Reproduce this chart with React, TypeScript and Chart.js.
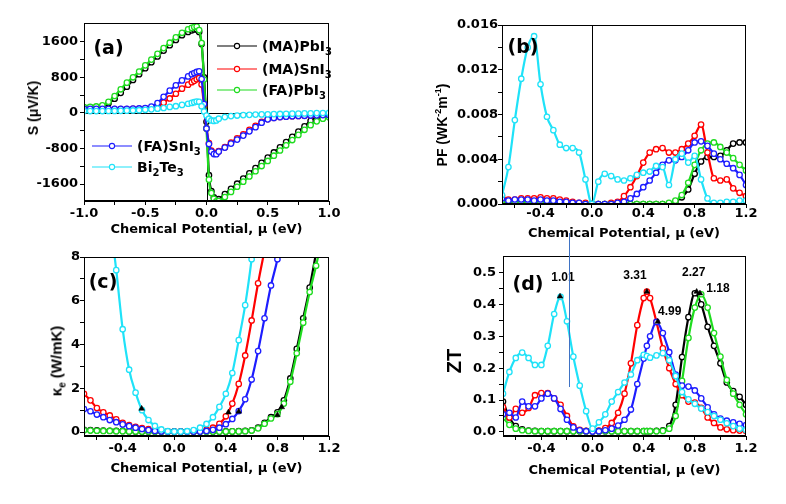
import React, { useEffect, useRef } from 'react';
import { Chart, registerables } from 'chart.js';

Chart.register(...registerables);
Chart.defaults.color = '#000';
Chart.defaults.font.family = "'DejaVu Sans', sans-serif";

// ---------------- Panel (a): Seebeck coefficient ----------------
const MU_A = [
  -1.0, -0.95, -0.9, -0.85, -0.8, -0.75, -0.7, -0.65, -0.6, -0.55,
  -0.5, -0.45, -0.4, -0.35, -0.3, -0.25, -0.2, -0.15, -0.12, -0.1,
  -0.08, -0.06, -0.04, -0.02, 0, 0.02, 0.04, 0.06, 0.08, 0.1,
  0.15, 0.2, 0.25, 0.3, 0.35, 0.4, 0.45, 0.5, 0.55, 0.6,
  0.65, 0.7, 0.75, 0.8, 0.85, 0.9, 0.95, 1.0,
];
const S_MAPBI3 = [
  120, 122, 128, 150, 215, 320, 450, 590, 740, 870,
  1005, 1140, 1270, 1400, 1520, 1640, 1745, 1820, 1855, 1875,
  1880, 1820, 1550, 800, -200, -1400, -1760, -1900, -1960, -1940,
  -1825, -1708, -1591, -1474, -1357, -1240, -1123, -1006, -889, -772,
  -655, -538, -421, -304, -180, -100, -70, -55,
];
const S_MASNI3 = [
  85, 85, 85, 85, 85, 85, 85, 85, 88, 92,
  100, 110, 140, 230, 325, 430, 545, 635, 690, 720,
  755, 785, 640, 150, -350, -680, -850, -900, -910, -860,
  -770, -670, -570, -480, -380, -290, -200, -140, -110, -92,
  -82, -73, -68, -62, -57, -52, -48, -43,
];
const S_FAPBI3 = [
  130, 135, 145, 170, 250, 380, 530, 680, 800, 930,
  1068, 1197, 1327, 1456, 1577, 1700, 1800, 1880, 1910, 1930,
  1940, 1860, 1570, 750, -350, -1500, -1800, -1930, -1990, -1980,
  -1890, -1775, -1660, -1545, -1430, -1312, -1195, -1080, -962, -845,
  -728, -610, -495, -380, -275, -190, -130, -100,
];
const S_FASNI3 = [
  90, 90, 90, 90, 90, 90, 90, 90, 95, 100,
  110, 140, 220, 360, 500, 620, 730, 820, 870, 895,
  920, 935, 760, 200, -350, -700, -870, -925, -930, -870,
  -780, -690, -600, -510, -415, -320, -220, -145, -115, -95,
  -85, -75, -70, -65, -60, -55, -50, -45,
];
const S_BI2TE3 = [
  40, 40, 40, 40, 42, 44, 46, 50, 55, 60,
  70, 80, 95, 110, 135, 150, 180, 205, 225, 240,
  255, 250, 150, 30, -60, -130, -170, -180, -170, -130,
  -95, -72, -60, -50, -44, -38, -34, -30, -27, -24,
  -20, -17, -14, -11, -8, -5, -2, 0,
];

// ---------------- Panels (b), (c): shared chemical potential grid ----------------
const MU = [
  -0.7, -0.65, -0.6, -0.55, -0.5, -0.45, -0.4, -0.35, -0.3, -0.25,
  -0.2, -0.15, -0.1, -0.05, 0, 0.05, 0.1, 0.15, 0.2, 0.25,
  0.3, 0.35, 0.4, 0.45, 0.5, 0.55, 0.6, 0.65, 0.7, 0.75,
  0.8, 0.85, 0.9, 0.95, 1.0, 1.05, 1.1, 1.15, 1.2,
];

// (b) power factor
const PF_MAPBI3 = [
  0.0001, 0.0001, 0.0001, 0.0001, 0.0001, 0.0001, 0.0001, 0, 0, 0,
  0, 0, 0, 0, 0, 0, 0, 0, 0, 0,
  0, 0, 0, 0, 0, 0, 0, 0.0002, 0.0006, 0.0013,
  0.0027, 0.0038, 0.0042, 0.0042, 0.0043, 0.0048, 0.0054, 0.0055, 0.0055,
];
const PF_MASNI3 = [
  0.0007, 0.0004, 0.0004, 0.0005, 0.0005, 0.0005, 0.0006, 0.0005, 0.0005, 0.0004,
  0.0003, 0.0002, 0.0001, 0.0001, 0, 0, 0, 0.0001, 0.0002, 0.0007,
  0.0015, 0.0025, 0.0037, 0.0046, 0.0049, 0.0050, 0.0046, 0.0046, 0.0049, 0.0054,
  0.0061, 0.0071, 0.0046, 0.0023, 0.0021, 0.0022, 0.0014, 0.0010, 0.0007,
];
const PF_FAPBI3 = [
  0.0003, 0.0002, 0.0002, 0.0002, 0.0002, 0.0002, 0.0002, 0.0002, 0.0001, 0.0001,
  0.0001, 0, 0, 0, 0, 0, 0, 0, 0, 0,
  0, 0, 0, 0, 0, 0, 0.0001, 0.0003, 0.0008, 0.0019,
  0.0035, 0.0048, 0.0054, 0.0055, 0.0051, 0.0046, 0.0041, 0.0035, 0.0030,
];
const PF_FASNI3 = [
  0.0005, 0.0003, 0.0004, 0.0004, 0.0004, 0.0003, 0.0004, 0.0003, 0.0003, 0.0002,
  0.0002, 0.0001, 0.0001, 0, 0, 0, 0, 0, 0.0001, 0.0002,
  0.0005, 0.0009, 0.0015, 0.0021, 0.0028, 0.0035, 0.0039, 0.0039, 0.0042, 0.0048,
  0.0055, 0.0056, 0.0052, 0.0045, 0.0040, 0.0036, 0.0032, 0.0026, 0.0017,
];
const PF_BI2TE3 = [
  0.0008, 0.0033, 0.0075, 0.0112, 0.0140, 0.0150, 0.0107, 0.0078, 0.0066, 0.0053,
  0.0050, 0.0050, 0.0046, 0.0022, 0.0000, 0.0020, 0.0027, 0.0025, 0.0022, 0.0021,
  0.0023, 0.0026, 0.0028, 0.0029, 0.0034, 0.0033, 0.0017, 0.0040, 0.0045, 0.0037,
  0.0043, 0.0022, 0.0005, 0.0001, 0.0001, 0.0002, 0.0002, 0.0003, 0.0003,
];

// (c) electronic thermal conductivity
const KE_MAPBI3 = [
  0.10, 0.09, 0.08, 0.07, 0.06, 0.05, 0.05, 0.04, 0.03, 0.03,
  0.02, 0.02, 0.02, 0.02, 0.02, 0.02, 0.02, 0.02, 0.02, 0.02,
  0.02, 0.02, 0.03, 0.03, 0.04, 0.05, 0.08, 0.2, 0.42, 0.68,
  0.9, 1.45, 2.45, 3.8, 5.2, 6.6, 8.2, 9.8, null,
];
const KE_MASNI3 = [
  1.75, 1.45, 1.1, 0.9, 0.76, 0.58, 0.42, 0.32, 0.24, 0.18,
  0.13, 0.08, 0.05, 0.03, 0.02, 0.02, 0.02, 0.03, 0.05, 0.1,
  0.2, 0.38, 0.72, 1.3, 2.2, 3.5, 5.1, 6.8, 8.3, null,
  null, null, null, null, null, null, null, null, null,
];
const KE_FAPBI3 = [
  0.08, 0.07, 0.06, 0.05, 0.05, 0.04, 0.04, 0.03, 0.03, 0.02,
  0.02, 0.02, 0.02, 0.02, 0.02, 0.02, 0.02, 0.02, 0.02, 0.02,
  0.02, 0.02, 0.02, 0.03, 0.03, 0.04, 0.07, 0.17, 0.38, 0.62,
  0.82, 1.3, 2.3, 3.6, 5.0, 6.4, 7.6, 9.0, null,
];
const KE_FASNI3 = [
  1.05, 0.95, 0.8, 0.68, 0.55, 0.45, 0.35, 0.27, 0.2, 0.14,
  0.09, 0.05, 0.03, 0.02, 0.02, 0.02, 0.02, 0.02, 0.02, 0.05,
  0.1, 0.2, 0.36, 0.6, 0.96, 1.5, 2.4, 3.7, 5.2, 6.7,
  7.9, 9.6, null, null, null, null, null, null, null,
];
const KE_BI2TE3 = [
  null, null, null, 11.5, 9.7, 7.4, 4.7, 2.85, 1.8, 1.0,
  0.55, 0.28, 0.12, 0.04, 0.02, 0.02, 0.04, 0.09, 0.2, 0.37,
  0.68, 1.15, 1.75, 2.7, 4.2, 5.8, 7.9, 10.5, null, null,
  null, null, null, null, null, null, null, null, null,
];
const KE_PEAK_MU = [-0.253, 0.42, 0.5, 0.8, 0.834];
const KE_PEAK_VAL = [1.07, 0.9, 0.94, 0.78, 1.14];

// ---------------- Panel (d): ZT ----------------
const MU_D = [
  -0.7, -0.65, -0.6, -0.55, -0.5, -0.45, -0.4, -0.35, -0.3, -0.25,
  -0.2, -0.15, -0.1, -0.05, 0, 0.05, 0.1, 0.15, 0.2, 0.25,
  0.3, 0.35, 0.4, 0.425, 0.45, 0.5, 0.55, 0.6, 0.65, 0.7,
  0.75, 0.8, 0.85, 0.9, 0.95, 1.0, 1.05, 1.1, 1.15, 1.2,
];
const ZT_MAPBI3 = [
  0.095, 0.045, 0.018, 0.008, 0.004, 0.003, 0.002, 0.002, 0.002, 0.002,
  0.002, 0.002, 0.002, 0.002, 0.002, 0.002, 0.002, 0.002, 0.002, 0.002,
  0.002, 0.002, 0.002, 0.002, 0.002, 0.003, 0.005, 0.018, 0.085, 0.235,
  0.36, 0.435, 0.4, 0.33, 0.27, 0.215, 0.155, 0.128, 0.11, 0.085,
];
const ZT_MASNI3 = [
  0.078, 0.045, 0.072, 0.06, 0.075, 0.115, 0.122, 0.122, 0.105, 0.085,
  0.05, 0.017, 0.006, 0.003, 0.002, 0.004, 0.012, 0.028, 0.06, 0.12,
  0.215, 0.335, 0.42, 0.44, 0.42, 0.345, 0.262, 0.2, 0.15, 0.115,
  0.095, 0.092, 0.075, 0.045, 0.028, 0.014, 0.008, 0.005, 0.004, 0.003,
];
const ZT_FAPBI3 = [
  0.045, 0.022, 0.01, 0.005, 0.003, 0.002, 0.002, 0.002, 0.002, 0.002,
  0.002, 0.002, 0.002, 0.002, 0.002, 0.002, 0.002, 0.002, 0.002, 0.002,
  0.002, 0.002, 0.002, 0.002, 0.002, 0.002, 0.003, 0.01, 0.05, 0.16,
  0.295, 0.39, 0.432, 0.39, 0.31, 0.236, 0.163, 0.12, 0.085, 0.055,
];
const ZT_FASNI3 = [
  0.055, 0.06, 0.045, 0.095, 0.08, 0.08, 0.105, 0.12, 0.105, 0.072,
  0.038, 0.014, 0.005, 0.002, 0.001, 0.002, 0.005, 0.01, 0.02, 0.038,
  0.07, 0.15, 0.23, 0.27, 0.3, 0.345, 0.31, 0.25, 0.18, 0.145,
  0.142, 0.13, 0.105, 0.077, 0.055, 0.042, 0.035, 0.03, 0.025, 0.021,
];
const ZT_BI2TE3 = [
  0.12, 0.188, 0.232, 0.249, 0.232, 0.21, 0.21, 0.27, 0.37, 0.424,
  0.347, 0.236, 0.145, 0.065, 0.01, 0.03, 0.055, 0.095, 0.125, 0.155,
  0.18, 0.225, 0.242, 0.238, 0.233, 0.24, 0.247, 0.225, 0.175, 0.125,
  0.102, 0.088, 0.073, 0.062, 0.05, 0.038, 0.027, 0.018, 0.01, 0.006,
];
const ZT_PEAK_MU = [-0.254, 0.425, 0.51, 0.814, 0.84];
const ZT_PEAK_VAL = [0.425, 0.44, 0.346, 0.44, 0.435];
const ZT_PEAK_LABELS = ['1.01', '3.31', '4.99', '2.27', '1.18'];

// ---------------- Tick values ----------------
const TICKS_A_X = [-1, -0.5, 0, 0.5, 1];
const MINOR_A_X = [-0.75, -0.25, 0.25, 0.75];
const TICKS_A_Y = [-1600, -800, 0, 800, 1600];
const MINOR_A_Y = [-1200, -400, 400, 1200];
const TICKS_MU = [-0.4, 0, 0.4, 0.8, 1.2];
const MINOR_MU = [-0.6, -0.2, 0.2, 0.6, 1.0];
const TICKS_PF = [0, 0.004, 0.008, 0.012, 0.016];
const MINOR_PF = [0.002, 0.006, 0.01, 0.014];
const TICKS_KE = [0, 2, 4, 6, 8];
const MINOR_KE = [1, 3, 5, 7];
const TICKS_ZT = [0, 0.1, 0.2, 0.3, 0.4, 0.5];
const MINOR_ZT = [0.05, 0.15, 0.25, 0.35, 0.45];

// ---------------- Styles ----------------
const COLORS = {
  MAPbI3: '#000000',
  MASnI3: '#ff0000',
  FAPbI3: '#1fdc1f',
  FASnI3: '#1d1dff',
  Bi2Te3: '#1fe2f8',
};
const FONT_H = "'DejaVu Sans', sans-serif";
const FONT_A = "'Liberation Sans', Arial, sans-serif";
const TICK_FONT = { family: FONT_H, size: 13, weight: 'bold' as const, lineHeight: 1 };
const TITLE_FONT = { family: FONT_H, size: 13, weight: 'bold' as const, lineHeight: 1.2 };
const X_TITLE = 'Chemical Potential, \u03bc (eV)';
const LABEL_DX = [3, -12, 12, -3, 18];
const LABEL_DY = [-19, -16, -10, -19, -5];

function series(xs: number[], ys: (number | null)[], color: string, order: number) {
  return {
    type: 'line' as const,
    data: xs.map((x, i) => ({ x, y: ys[i] })),
    borderColor: color,
    backgroundColor: '#ffffff',
    borderWidth: 2.2,
    pointRadius: 2.7,
    pointHoverRadius: 2.7,
    pointBorderWidth: 1.3,
    pointBorderColor: color,
    pointBackgroundColor: '#ffffff',
    cubicInterpolationMode: 'monotone' as const,
    clip: 0,
    order,
  };
}

function markers(xs: number[], ys: number[]) {
  return {
    type: 'line' as const,
    data: xs.map((x, i) => ({ x, y: ys[i] })),
    showLine: false,
    pointStyle: 'triangle' as const,
    pointRadius: 3.3,
    pointHoverRadius: 3.3,
    pointBackgroundColor: '#000',
    pointBorderColor: '#000',
    pointBorderWidth: 0.5,
    order: 0,
  };
}

function fiveSeries(xs: number[], a: any[], b: any[], c: any[], d: any[], e: any[]) {
  return [
    series(xs, e, COLORS.Bi2Te3, 1),
    series(xs, d, COLORS.FASnI3, 2),
    series(xs, c, COLORS.FAPbI3, 3),
    series(xs, b, COLORS.MASnI3, 4),
    series(xs, a, COLORS.MAPbI3, 5),
  ];
}

type AxisOpt = {
  min: number; max: number; major: number[]; minor: number[];
  fmt: (v: number) => string; pad: number; size: number; horizontal: boolean;
  title?: string; titlePB?: number;
};

function axis(o: AxisOpt) {
  const all = [...o.major, ...o.minor].sort((p, q) => p - q);
  return {
    type: 'linear' as const,
    position: o.horizontal ? ('bottom' as const) : ('left' as const),
    min: o.min,
    max: o.max,
    afterBuildTicks: (ax: any) => { ax.ticks = all.map((v) => ({ value: v })); },
    afterFit: (ax: any) => { if (o.horizontal) ax.height = o.size; else ax.width = o.size; },
    ticks: {
      autoSkip: false, maxRotation: 0, minRotation: 0, padding: o.pad, color: '#000', font: TICK_FONT,
      callback: (v: any) => (o.major.includes(v) ? o.fmt(v) : ''),
    },
    grid: { display: true, drawOnChartArea: false, drawTicks: true, tickLength: 4, tickWidth: 1, tickColor: '#000', color: '#000' },
    border: { display: true, color: '#000', width: 1 },
    title: o.title
      ? { display: true, text: o.title, color: '#000', font: TITLE_FONT, padding: { top: 0, bottom: o.titlePB ?? 0 } }
      : { display: false },
  };
}

type Decor = {
  zeroX?: boolean; zeroY?: boolean;
  labels?: { xs: number[]; ys: number[]; texts: string[] };
};

function decorPlugin(cfg: Decor) {
  return {
    id: 'decor',
    beforeDatasetsDraw(chart: any) {
      const { ctx, chartArea: ca, scales } = chart;
      ctx.save();
      ctx.strokeStyle = '#000';
      ctx.lineWidth = 1;
      if (cfg.zeroX) {
        const px = Math.round(scales.x.getPixelForValue(0)) + 0.5;
        ctx.beginPath(); ctx.moveTo(px, ca.top); ctx.lineTo(px, ca.bottom); ctx.stroke();
      }
      if (cfg.zeroY) {
        const py = Math.round(scales.y.getPixelForValue(0)) + 0.5;
        ctx.beginPath(); ctx.moveTo(ca.left, py); ctx.lineTo(ca.right, py); ctx.stroke();
      }
      ctx.restore();
    },
    afterDatasetsDraw(chart: any) {
      const { ctx, chartArea: ca, scales } = chart;
      ctx.save();
      ctx.strokeStyle = '#000';
      ctx.lineWidth = 1;
      ctx.strokeRect(Math.round(ca.left) + 0.5, Math.round(ca.top) + 0.5, Math.round(ca.right - ca.left) - 1, Math.round(ca.bottom - ca.top) - 1);
      if (cfg.labels) {
        const L = cfg.labels;
        ctx.font = `bold 12px ${FONT_A}`;
        ctx.fillStyle = '#000';
        ctx.textAlign = 'center';
        ctx.textBaseline = 'middle';
        L.xs.forEach((x, i) => {
          const px = scales.x.getPixelForValue(x) + LABEL_DX[i];
          const py = scales.y.getPixelForValue(L.ys[i]) + LABEL_DY[i];
          ctx.fillText(L.texts[i], px, py);
        });
      }
      ctx.restore();
    },
  };
}

function baseOptions(pad: { left: number; right: number; top: number; bottom: number }, x: any, y: any) {
  return {
    responsive: false,
    animation: false as const,
    devicePixelRatio: 1,
    events: [] as any[],
    layout: { padding: pad },
    plugins: { legend: { display: false }, tooltip: { enabled: false } },
    scales: { x, y },
  };
}

const f1 = (v: number) => v.toFixed(1);
const f0 = (v: number) => String(Math.round(v));
const f3 = (v: number) => v.toFixed(3);

const buildA = () => ({
  type: 'line' as const,
  data: { datasets: fiveSeries(MU_A, S_MAPBI3, S_MASNI3, S_FAPBI3, S_FASNI3, S_BI2TE3) },
  options: baseOptions(
    { left: 24, right: 457, top: 23, bottom: 263 },
    axis({ min: -1, max: 1, major: TICKS_A_X, minor: MINOR_A_X, fmt: f1, pad: 1.8, size: 40, horizontal: true, title: X_TITLE, titlePB: 3.2 }),
    axis({ min: -1980, max: 2020, major: TICKS_A_Y, minor: MINOR_A_Y, fmt: f0, pad: 2, size: 60, horizontal: false }),
  ),
  plugins: [decorPlugin({ zeroX: true, zeroY: true })],
});

const buildB = () => ({
  type: 'line' as const,
  data: { datasets: fiveSeries(MU, PF_MAPBI3, PF_MASNI3, PF_FAPBI3, PF_FASNI3, PF_BI2TE3) },
  options: baseOptions(
    { left: 442, right: 40, top: 25, bottom: 260 },
    axis({ min: -0.7, max: 1.2, major: TICKS_MU, minor: MINOR_MU, fmt: f1, pad: -1.2, size: 40, horizontal: true, title: X_TITLE, titlePB: 2.9 }),
    axis({ min: 0, max: 0.016, major: TICKS_PF, minor: MINOR_PF, fmt: f3, pad: 0, size: 60, horizontal: false }),
  ),
  plugins: [decorPlugin({ zeroX: true })],
});

const buildC = () => ({
  type: 'line' as const,
  data: { datasets: [markers(KE_PEAK_MU, KE_PEAK_VAL), ...fiveSeries(MU, KE_MAPBI3, KE_MASNI3, KE_FAPBI3, KE_FASNI3, KE_BI2TE3)] },
  options: baseOptions(
    { left: 24, right: 457, top: 257, bottom: 26 },
    axis({ min: -0.7, max: 1.2, major: TICKS_MU, minor: MINOR_MU, fmt: f1, pad: 2.2, size: 42, horizontal: true, title: X_TITLE, titlePB: 1.5 }),
    axis({ min: -0.18, max: 8, major: TICKS_KE, minor: MINOR_KE, fmt: f0, pad: 0, size: 60, horizontal: false }),
  ),
  plugins: [decorPlugin({})],
});

const buildD = () => ({
  type: 'line' as const,
  data: { datasets: [markers(ZT_PEAK_MU, ZT_PEAK_VAL), ...fiveSeries(MU_D, ZT_MAPBI3, ZT_MASNI3, ZT_FAPBI3, ZT_FASNI3, ZT_BI2TE3)] },
  options: baseOptions(
    { left: 443, right: 40, top: 256, bottom: 26 },
    axis({ min: -0.7, max: 1.2, major: TICKS_MU, minor: MINOR_MU, fmt: f1, pad: 2.2, size: 42, horizontal: true, title: X_TITLE, titlePB: 0 }),
    axis({ min: -0.013, max: 0.552, major: TICKS_ZT, minor: MINOR_ZT, fmt: f1, pad: 3, size: 60, horizontal: false }),
  ),
  plugins: [decorPlugin({ labels: { xs: ZT_PEAK_MU, ys: ZT_PEAK_VAL, texts: ZT_PEAK_LABELS } })],
});

function ChartCanvas({ build }: { build: () => any }) {
  const ref = useRef<HTMLCanvasElement | null>(null);
  useEffect(() => {
    if (!ref.current) return;
    const chart = new Chart(ref.current, build());
    return () => chart.destroy();
  }, [build]);
  return (
    <canvas
      ref={ref}
      width={786}
      height={504}
      style={{ position: 'absolute', left: 0, top: 0, width: '786px', height: '504px' }}
    />
  );
}

const Sub = ({ c }: { c: string }) => (
  <span style={{ fontSize: '10px', position: 'relative', top: '4px' }}>{c}</span>
);
const Sup = ({ c }: { c: string }) => (
  <span style={{ fontSize: '9px', position: 'relative', top: '-6px' }}>{c}</span>
);

function LegendRow({ x, y, color, children }: { x: number; y: number; color: string; children: React.ReactNode }) {
  return (
    <>
      <svg style={{ position: 'absolute', left: x, top: y - 4, overflow: 'visible' }} width={40} height={8}>
        <line x1={0} y1={4} x2={40} y2={4} stroke={color} strokeWidth={1.2} />
        <circle cx={20} cy={4} r={2.6} fill="#fff" stroke={color} strokeWidth={1.1} />
      </svg>
      <div
        style={{
          position: 'absolute', left: x + 45, top: y, transform: 'translateY(-50%)',
          font: `bold 14px ${FONT_H}`, whiteSpace: 'nowrap', lineHeight: 1, color: '#000',
        }}
      >
        {children}
      </div>
    </>
  );
}

function VTitle({ cx, cy, size, children }: { cx: number; cy: number; size: number; children: React.ReactNode }) {
  return (
    <div
      style={{
        position: 'absolute', left: cx, top: cy, transform: 'translate(-50%,-50%) rotate(-90deg)',
        font: `bold ${size}px ${FONT_A}`, whiteSpace: 'nowrap', lineHeight: 1, color: '#000',
      }}
    >
      {children}
    </div>
  );
}

function PanelLabel({ cx, cy, text }: { cx: number; cy: number; text: string }) {
  return (
    <div
      style={{
        position: 'absolute', left: cx, top: cy, transform: 'translate(-50%,-50%)',
        font: `bold 19px ${FONT_H}`, lineHeight: 1, whiteSpace: 'nowrap', color: '#000',
      }}
    >
      {text}
    </div>
  );
}

export default function App() {
  return (
    <div style={{ position: 'absolute', left: 0, top: 0, width: 786, height: 504, background: '#fff', overflow: 'hidden' }}>
      <ChartCanvas build={buildA} />
      <ChartCanvas build={buildB} />
      <ChartCanvas build={buildC} />
      <ChartCanvas build={buildD} />

      <PanelLabel cx={108.5} cy={47} text="(a)" />
      <PanelLabel cx={523} cy={46} text="(b)" />
      <PanelLabel cx={103} cy={281} text="(c)" />
      <PanelLabel cx={528} cy={283} text="(d)" />

      <LegendRow x={217} y={46} color={COLORS.MAPbI3}>(MA)PbI<Sub c="3" /></LegendRow>
      <LegendRow x={217} y={68.5} color={COLORS.MASnI3}>(MA)SnI<Sub c="3" /></LegendRow>
      <LegendRow x={217} y={89.5} color={COLORS.FAPbI3}>(FA)PbI<Sub c="3" /></LegendRow>
      <LegendRow x={92} y={145.7} color={COLORS.FASnI3}>(FA)SnI<Sub c="3" /></LegendRow>
      <LegendRow x={92} y={166.7} color={COLORS.Bi2Te3}>Bi<Sub c="2" />Te<Sub c="3" /></LegendRow>

      <VTitle cx={33} cy={107.5} size={14}>S (&mu;V/K)</VTitle>
      <VTitle cx={442} cy={125} size={14}>PF (WK<Sup c="-2" />m<Sup c="-1" />)</VTitle>
      <VTitle cx={56} cy={361} size={15}>&kappa;<Sub c="e" /> (W/mK)</VTitle>
      <VTitle cx={454} cy={360.5} size={20}>ZT</VTitle>

      <div style={{ position: 'absolute', left: 569, top: 233, width: 1, height: 154, background: '#3f73c4' }} />
    </div>
  );
}
